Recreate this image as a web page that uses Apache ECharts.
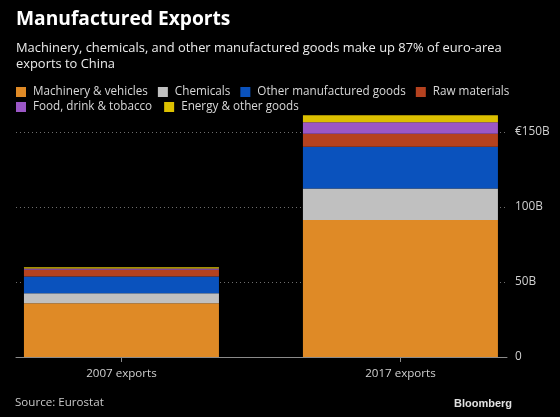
<!DOCTYPE html>
<html><head><meta charset="utf-8">
<script src="https://cdn.jsdelivr.net/npm/echarts@6/dist/echarts.min.js"></script>
<style>html,body{margin:0;padding:0;background:#000;}#c{width:560px;height:417px;}</style>
</head><body><div id="c"></div>
<script>
const categories = ['2007 exports', '2017 exports'];
const seriesNames = ['Machinery & vehicles', 'Chemicals', 'Other manufactured goods', 'Raw materials', 'Food, drink & tobacco', 'Energy & other goods'];
const machinery = [35.8, 91.3];
const chemicals = [6.7, 21.1];
const otherManufactured = [11.1, 27.7];
const rawMaterials = [4.5, 8.7];
const foodDrink = [0.9, 7.7];
const energyOther = [0.9, 4.6];
const yTicks = [0, 50, 100, 150];
const yTickLabels = ['0', '50B', '100B', '€150B'];

const values = [machinery, chemicals, otherManufactured, rawMaterials, foodDrink, energyOther];
const colors = ['#df8a26', '#c0c0c0', '#0a52bd', '#b5421f', '#9b57c6', '#dcc000'];
const FONT = 'Open Sans';
const catIdx = categories.map((c, i) => i);

// x axis in category-index units; bars centred on index positions
const xMin = -0.378, xMax = 1.382;

const chart = echarts.init(document.getElementById('c'), null, {renderer: 'canvas'});
const legendText = {color: '#d8d8d8', fontSize: 11.7, fontFamily: FONT, padding: [0, 0, 0, 2]};
const option = {
  backgroundColor: '#000',
  animation: false,
  textStyle: {fontFamily: FONT},
  title: [
    {text: 'Manufactured Exports', left: 11, top: 5,
     textStyle: {color: '#fff', fontSize: 19.2, fontWeight: 'bold', fontFamily: FONT}},
    {text: 'Machinery, chemicals, and other manufactured goods make up 87% of euro-area\nexports to China', left: 11, top: 35,
     textStyle: {color: '#ececec', fontSize: 12.9, fontWeight: 'normal', lineHeight: 16, fontFamily: FONT}},
    {text: 'Source: Eurostat', left: 10, top: 392,
     textStyle: {color: '#c8c8c8', fontSize: 11.6, fontWeight: 'normal', fontFamily: FONT}},
    {text: 'Bloomberg', right: 43, top: 393,
     textStyle: {color: '#e0e0e0', fontSize: 11, fontWeight: 'bold', fontFamily: 'Liberation Sans'}}
  ],
  legend: [
    {data: seriesNames.slice(0, 4), left: 11, top: 81, itemWidth: 10, itemHeight: 10, itemGap: 10,
     icon: 'rect', textStyle: legendText},
    {data: seriesNames.slice(4), left: 11, top: 96, itemWidth: 10, itemHeight: 10, itemGap: 12,
     icon: 'rect', textStyle: legendText}
  ],
  grid: [
    {left: 16, right: 53, top: 132, bottom: 60},
    {left: 16, right: 53, top: 102, bottom: 60}
  ],
  xAxis: [
    {type: 'category', gridIndex: 0, data: categories,
     axisLine: {show: true, lineStyle: {color: '#8a8a8a', width: 1}},
     axisTick: {show: false}, axisLabel: {show: false}, splitLine: {show: false}},
    {type: 'value', gridIndex: 1, min: xMin, max: xMax,
     axisLine: {show: false}, splitLine: {show: false},
     axisTick: {show: true, length: 5, customValues: catIdx, lineStyle: {color: '#8a8a8a'}},
     axisLabel: {color: '#d0d0d0', fontSize: 11.6, margin: 11, fontFamily: FONT,
       customValues: catIdx,
       formatter: v => (Number.isInteger(v) && categories[v] !== undefined) ? categories[v] : ''}}
  ],
  yAxis: [
    {type: 'value', gridIndex: 0, position: 'right', min: 0, max: 150, interval: 50,
     axisLine: {show: false}, axisTick: {show: false},
     splitLine: {show: true, lineStyle: {color: '#6e6e6e', type: [1, 3], width: 1}},
     axisLabel: {color: '#d0d0d0', fontSize: 11.8, margin: 8, fontFamily: FONT,
       formatter: v => { const i = yTicks.indexOf(v); return i >= 0 ? yTickLabels[i] : ''; }}},
    {type: 'value', gridIndex: 1, min: 0, max: 170, show: false, splitLine: {show: false}}
  ],
  series: seriesNames.map((name, i) => ({
    name, type: 'bar', stack: 'total', xAxisIndex: 1, yAxisIndex: 1,
    barWidth: 195,
    dimensions: ['value', 'idx'],
    encode: {x: 'idx', y: 'value'},
    data: values[i].map((v, j) => [v, catIdx[j]]),
    itemStyle: {color: colors[i]}, z: 3
  }))
};
chart.setOption(option);
</script></body></html>
